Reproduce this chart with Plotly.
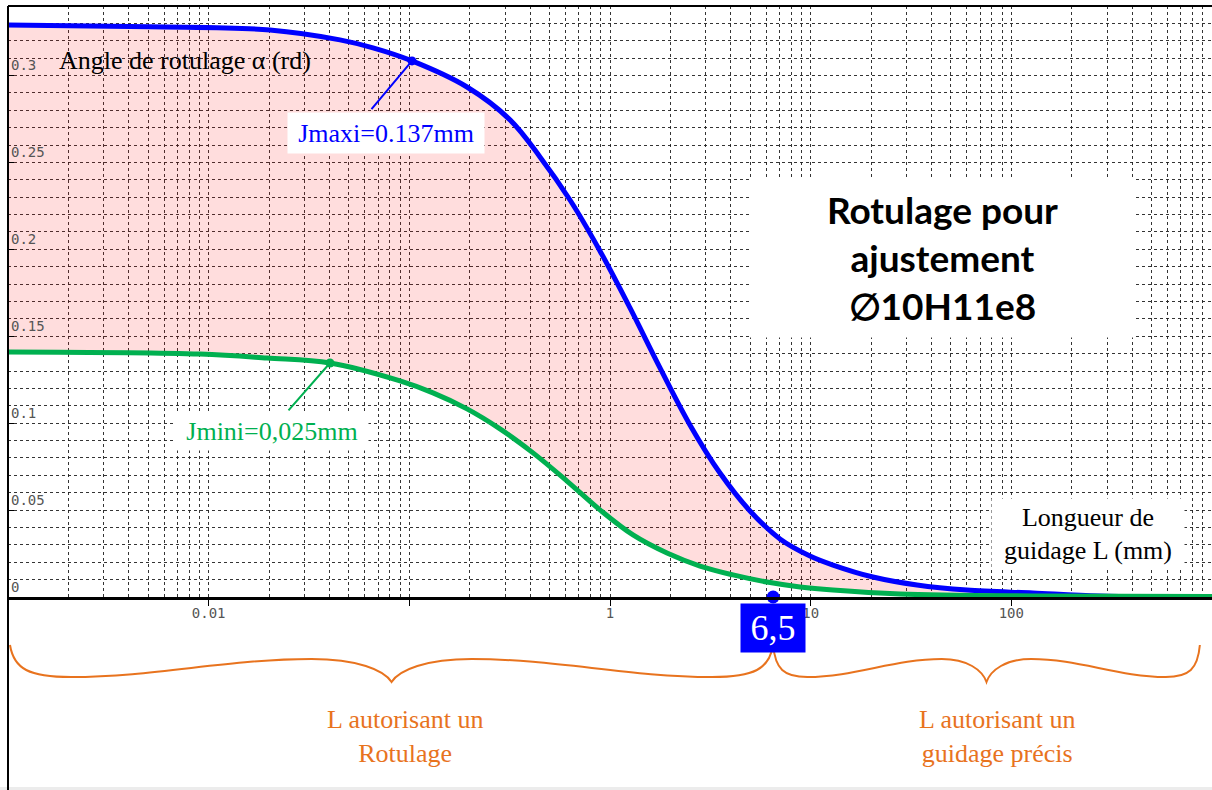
import numpy as np
import plotly.graph_objects as go

# ---------------- data ----------------
L_jmax = [0.001, 0.0051, 0.0202, 0.0451, 0.0659, 0.1031, 0.1938, 0.3175, 0.4478, 0.632,
          0.8914, 1.258, 1.775, 2.503, 3.533, 4.985, 7.033, 9.92, 12.92, 20.44, 33.87,
          60.1, 128.2, 276.5, 1000]
alpha_jmax = [0.3291, 0.3280, 0.3262, 0.3205, 0.3159, 0.3084, 0.2934, 0.2745, 0.2532, 0.2284,
              0.1991, 0.1663, 0.1318, 0.0990, 0.0713, 0.0495, 0.0334, 0.0236, 0.0184, 0.0115,
              0.0069, 0.0040, 0.0023, 0.0006, 0.0]

L_jmin = [0.001, 0.00905, 0.01953, 0.04023, 0.0899, 0.1312, 0.1938, 0.283, 0.4133, 0.6105,
          0.8914, 1.302, 1.923, 2.809, 4.102, 6.06, 8.847, 12.92, 27.87, 128.2, 1000]
alpha_jmin = [0.1410, 0.1398, 0.1375, 0.1346, 0.1243, 0.1174, 0.1082, 0.0967, 0.0829, 0.0667,
              0.0501, 0.0357, 0.0253, 0.0178, 0.0127, 0.0086, 0.0058, 0.0040, 0.0017, 0.0006, 0.0003]

marker_jmax = (0.1031, 0.3084)
marker_jmin = (0.04023, 0.1346)
L_split = 6.5
L_brace_end = 870

label_jmax = "Jmaxi=0.137mm"
label_jmin = "Jmini=0,025mm"
y_title = "Angle de rotulage α (rd)"
x_title = "Longueur de<br>guidage L (mm)"
big_title = "<b>Rotulage pour<br>ajustement<br>∅10H11e8</b>"
left_zone = "L autorisant un<br>Rotulage"
right_zone = "L autorisant un<br>guidage précis"
split_label = "6,5"

x_tickvals = [0.001, 0.01, 0.1, 1, 10, 100, 1000]
x_ticktext = ["", "0.01", "", "1", "10", "100", ""]

# ---------------- layout geometry (pixels) ----------------
W, H = 1212, 790
PL, PR, PT, PB = 8, 1212, 6, 597
XMIN, XMAX = -3, 3
YMAX = 0.34

def X(px):
    return (px - PL) / (PR - PL)

def Y(py):
    return (PB - py) / (PB - PT)

def xpix(L):
    return PL + (np.log10(L) - XMIN) / (XMAX - XMIN) * (PR - PL)

BLUE = "#0000FF"
GREEN = "#00B050"
ORANGE = "#E8731E"
GRID = "rgba(30,30,30,0.9)"
SERIF = "Liberation Serif"
MONO = "DejaVu Sans Mono"

fig = go.Figure()

fig.add_trace(go.Scatter(x=L_jmin, y=alpha_jmin, mode="lines",
                         line=dict(width=0, color=GREEN, shape="spline"),
                         hoverinfo="skip", showlegend=False))
fig.add_trace(go.Scatter(x=L_jmax, y=alpha_jmax, mode="lines", fill="tonexty",
                         fillcolor="rgba(255,0,0,0.135)",
                         line=dict(width=5, color=BLUE, shape="spline"), showlegend=False))
fig.add_trace(go.Scatter(x=L_jmin, y=alpha_jmin, mode="lines",
                         line=dict(width=5, color=GREEN, shape="spline"), showlegend=False))
fig.add_trace(go.Scatter(x=[marker_jmax[0]], y=[marker_jmax[1]], mode="markers",
                         marker=dict(size=9, color=BLUE), showlegend=False))
fig.add_trace(go.Scatter(x=[marker_jmin[0]], y=[marker_jmin[1]], mode="markers",
                         marker=dict(size=9, color=GREEN), showlegend=False))
fig.add_trace(go.Scatter(x=[L_split], y=[0], mode="markers", cliponaxis=False,
                         marker=dict(size=13, color=BLUE), showlegend=False))

annotations = []
annotations.append(dict(x=np.log10(marker_jmax[0]), y=marker_jmax[1], xref="x", yref="y",
                        text=" ", showarrow=True, arrowhead=0, arrowwidth=2, arrowcolor=BLUE,
                        ax=-42, ay=50, font=dict(size=1)))
annotations.append(dict(x=np.log10(marker_jmin[0]), y=marker_jmin[1], xref="x", yref="y",
                        text=" ", showarrow=True, arrowhead=0, arrowwidth=2, arrowcolor=GREEN,
                        ax=-43, ay=49, font=dict(size=1)))
annotations.append(dict(x=np.log10(marker_jmax[0]), y=marker_jmax[1], xref="x", yref="y",
                        text=label_jmax, showarrow=False, xshift=-26, yshift=-72,
                        xanchor="center", yanchor="middle",
                        bgcolor="white", width=194, height=38,
                        font=dict(family=SERIF, size=26, color=BLUE)))
annotations.append(dict(x=np.log10(marker_jmin[0]), y=marker_jmin[1], xref="x", yref="y",
                        text=label_jmin, showarrow=False, xshift=-58, yshift=-68,
                        xanchor="center", yanchor="middle",
                        bgcolor="white", width=190, height=36,
                        font=dict(family=SERIF, size=26, color=GREEN)))
annotations.append(dict(x=X(57), y=Y(60), xref="paper", yref="paper", text=y_title,
                        showarrow=False, xanchor="left", yanchor="middle",
                        font=dict(family=SERIF, size=26, color="black")))
annotations.append(dict(x=X(1088), y=Y(534), xref="paper", yref="paper", text=x_title,
                        showarrow=False, xanchor="center", yanchor="middle",
                        bgcolor="white", width=190, height=68,
                        font=dict(family=SERIF, size=26, color="black")))
annotations.append(dict(x=X(943), y=Y(257), xref="paper", yref="paper", text=big_title,
                        showarrow=False, xanchor="center", yanchor="middle",
                        bgcolor="white", width=383, height=157,
                        font=dict(family="Lato", size=37, color="black", weight=900)))
annotations.append(dict(x=np.log10(L_split), y=0, xref="x", yref="y", text=split_label,
                        showarrow=False, xanchor="center", yanchor="top", yshift=-6,
                        bgcolor=BLUE, width=62, height=46,
                        font=dict(family=SERIF, size=36, color="white")))
annotations.append(dict(x=X(405), y=Y(736), xref="paper", yref="paper", text=left_zone,
                        showarrow=False, xanchor="center", yanchor="middle",
                        font=dict(family=SERIF, size=26, color=ORANGE)))
annotations.append(dict(x=X(997), y=Y(736), xref="paper", yref="paper", text=right_zone,
                        showarrow=False, xanchor="center", yanchor="middle",
                        font=dict(family=SERIF, size=26, color=ORANGE)))

def brace_path(xa, xb, yt=645, yl=677, ys=659, yc=682):
    xm = (xa + xb) / 2
    h = xm - xa
    p2 = xa + 0.16 * h
    p3 = xm - 0.21 * h
    d = p3 - p2
    q2 = xb - 0.16 * h
    q3 = xm + 0.21 * h
    segs = [
        f"M {X(xa)},{Y(yt)}",
        f"C {X(xa + 0.01*h)},{Y(yt + 0.75*(yl-yt))} {X(xa + 0.05*h)},{Y(yl)} {X(p2)},{Y(yl)}",
        f"C {X(p2 + 0.35*d)},{Y(yl)} {X(p3 - 0.35*d)},{Y(ys)} {X(p3)},{Y(ys)}",
        f"C {X(p3 + 0.12*h)},{Y(ys)} {X(xm - 0.02*h)},{Y(yc - 12)} {X(xm)},{Y(yc)}",
        f"C {X(xm + 0.02*h)},{Y(yc - 12)} {X(q3 - 0.12*h)},{Y(ys)} {X(q3)},{Y(ys)}",
        f"C {X(q3 + 0.35*d)},{Y(ys)} {X(q2 - 0.35*d)},{Y(yl)} {X(q2)},{Y(yl)}",
        f"C {X(xb - 0.05*h)},{Y(yl)} {X(xb - 0.01*h)},{Y(yt + 0.75*(yl-yt))} {X(xb)},{Y(yt)}",
    ]
    return " ".join(segs)

xs = xpix(L_split)
shapes = [
    dict(type="path", xref="paper", yref="paper", path=brace_path(PL + 2, xs),
         line=dict(color=ORANGE, width=2)),
    dict(type="path", xref="paper", yref="paper", path=brace_path(xs, xpix(L_brace_end)),
         line=dict(color=ORANGE, width=2)),
    dict(type="line", xref="paper", yref="paper", x0=0, x1=0, y0=Y(H), y1=1,
         line=dict(color="black", width=2)),
    dict(type="line", xref="paper", yref="paper", x0=0, x1=1, y0=1, y1=1,
         line=dict(color="black", width=2)),
    dict(type="rect", xref="paper", yref="paper", x0=X(0), x1=X(W), y0=Y(H), y1=Y(787),
         fillcolor="#ECECEC", line=dict(width=0), layer="below"),
]

minor_x = [k * 10.0 ** e for e in range(-3, 3) for k in range(2, 10)]

fig.update_layout(
    width=W, height=H,
    margin=dict(l=PL, r=W - PR, t=PT, b=H - PB, pad=0),
    paper_bgcolor="white", plot_bgcolor="white",
    showlegend=False,
    annotations=annotations, shapes=shapes,
    xaxis=dict(type="log", range=[XMIN, XMAX], tickvals=x_tickvals, ticktext=x_ticktext,
               showgrid=True, gridcolor=GRID, griddash="dot", gridwidth=1,
               minor=dict(tickvals=minor_x, showgrid=True, gridcolor=GRID, griddash="dot",
                          gridwidth=1, ticks=""),
               showline=True, linecolor="black", linewidth=3,
               ticks="outside", ticklen=6, tickcolor="black", tickwidth=1,
               ticklabelstandoff=-5,
               tickfont=dict(family=MONO, size=14, color="#555"), zeroline=False,
               layer="above traces"),
    yaxis=dict(range=[0, YMAX], dtick=0.05, tick0=0,
               showgrid=True, gridcolor=GRID, griddash="dot", gridwidth=1,
               minor=dict(dtick=0.01, showgrid=True, gridcolor=GRID, griddash="dot",
                          gridwidth=1, ticks=""),
               showline=False, zeroline=False,
               ticks="inside", ticklen=6, tickcolor="black",
               ticklabelposition="inside top",
               tickfont=dict(family=MONO, size=14, color="#555"),
               layer="above traces"),
)

fig.write_html("out.html", config={"displayModeBar": False},
               post_script="document.body.style.margin='0';document.body.style.overflow='hidden';")
